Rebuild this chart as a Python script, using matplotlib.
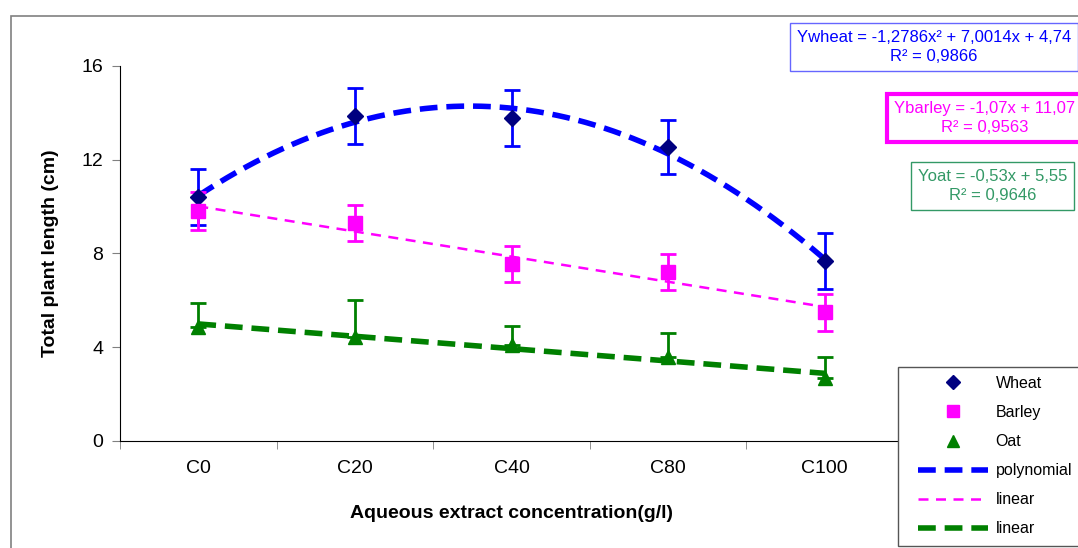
import numpy as np
import matplotlib
matplotlib.use('Agg')
import matplotlib.pyplot as plt
from matplotlib.patches import Rectangle
from matplotlib.lines import Line2D

plt.rcParams['font.family'] = ['Liberation Sans', 'DejaVu Sans']

categories = ['C0', 'C20', 'C40', 'C80', 'C100']
wheat = [10.4, 13.87, 13.78, 12.54, 7.68]
wheat_err = [1.2, 1.18, 1.2, 1.17, 1.18]
barley = [9.81, 9.29, 7.54, 7.2, 5.49]
barley_err = [0.8, 0.77, 0.77, 0.77, 0.78]
oat = [4.88, 4.45, 4.1, 3.6, 2.67]
oat_err_up = [1.0, 1.57, 0.8, 1.0, 0.93]

eq_wheat = 'Ywheat = -1,2786x² + 7,0014x + 4,74\nR² = 0,9866'
eq_barley = 'Ybarley = -1,07x + 11,07\nR² = 0,9563'
eq_oat = 'Yoat = -0,53x + 5,55\nR² = 0,9646'

BLUE = '#0000ff'
NAVY = '#000080'
MAG = '#ff00ff'
GREEN = '#008000'
SEA = '#339966'


def main():
    fig = plt.figure(figsize=(10.78, 5.48), dpi=100)
    ax = fig.add_axes([0.1113, 0.1953, 0.7264, 0.6843])
    x = np.arange(1, len(categories) + 1)
    W, H = 1078, 548

    # outer chart border (only top and left visible)
    fig.patches.append(Rectangle((11 / W, -0.05), 2, 1.05 - 16 / H,
                                 transform=fig.transFigure, fill=False,
                                 edgecolor='#808080', lw=1.2, zorder=0))

    # trend lines fitted to the data
    xs = np.linspace(1, 5, 200)
    pw = np.polyfit(x, wheat, 2)
    pb = np.polyfit(x, barley, 1)
    po = np.polyfit(x, oat, 1)
    ax.plot(xs, np.polyval(pw, xs), color=BLUE, lw=4, dashes=(3.2, 1.6), zorder=2)
    ax.plot(xs, np.polyval(pb, xs), color=MAG, lw=1.8, dashes=(4, 3), zorder=2)
    ax.plot(xs, np.polyval(po, xs), color=GREEN, lw=4, dashes=(3.2, 1.6), zorder=2)

    ax.errorbar(x, wheat, yerr=wheat_err, fmt='none', ecolor=BLUE, elinewidth=2,
                capsize=6, capthick=2, zorder=3)
    ax.errorbar(x, barley, yerr=barley_err, fmt='none', ecolor=MAG, elinewidth=2,
                capsize=6, capthick=2, zorder=3)
    ax.errorbar(x, oat, yerr=[np.zeros(len(oat)), oat_err_up], fmt='none',
                ecolor=GREEN, elinewidth=2, capsize=6, capthick=2, zorder=3)

    ax.plot(x, wheat, 'D', color=NAVY, ms=8, zorder=4)
    ax.plot(x, barley, 's', color=MAG, ms=10, zorder=4)
    ax.plot(x, oat, '^', color=GREEN, ms=10, zorder=4)

    ax.set_xlim(0.5, 5.5)
    ax.set_ylim(0, 16)
    ax.set_yticks([0, 4, 8, 12, 16])
    ax.set_xticks(x)
    ax.set_xticklabels(categories)
    ax.set_xticks(np.arange(0.5, 6, 1), minor=True)
    ax.tick_params(axis='x', which='major', length=0, pad=14, labelsize=14)
    ax.tick_params(axis='x', which='minor', length=6, color='#808080')
    ax.tick_params(axis='y', length=6, color='#808080', labelsize=14, pad=6)
    for s in ['top', 'right']:
        ax.spines[s].set_visible(False)
    ax.set_xlabel('Aqueous extract concentration(g/l)', fontsize=14,
                  fontweight='bold', labelpad=20)
    ax.set_ylabel('Total plant length (cm)', fontsize=14, fontweight='bold',
                  labelpad=16)

    # equation boxes
    box_kw = dict(fontsize=12, ha='left', va='center', multialignment='center',
                  linespacing=1.35)
    fig.text(797 / W, 1 - 47 / H, eq_wheat, color=BLUE, **box_kw,
             bbox=dict(boxstyle='square,pad=0.4', fc='white', ec='#6666ff', lw=1))
    fig.text(894 / W, 1 - 118 / H, eq_barley, color=MAG, **box_kw,
             bbox=dict(boxstyle='square,pad=0.4', fc='white', ec=MAG, lw=3))
    fig.text(918 / W, 1 - 186 / H, eq_oat, color=SEA, **box_kw,
             bbox=dict(boxstyle='square,pad=0.4', fc='white', ec=SEA, lw=1))

    # legend frame drawn separately so it can run past the figure edge
    fig.patches.append(Rectangle((898 / W, 1 - 546 / H), 0.3, (546 - 367) / H,
                                 transform=fig.transFigure, fill=True, fc='white',
                                 edgecolor='#555555', lw=1, zorder=5))
    handles = [
        Line2D([], [], ls='none', marker='D', color=NAVY, ms=7),
        Line2D([], [], ls='none', marker='s', color=MAG, ms=9),
        Line2D([], [], ls='none', marker='^', color=GREEN, ms=9),
        Line2D([], [], color=BLUE, lw=4, dashes=(3.2, 1.6)),
        Line2D([], [], color=MAG, lw=1.8, dashes=(4, 3)),
        Line2D([], [], color=GREEN, lw=4, dashes=(3.2, 1.6)),
    ]
    labels = ['Wheat', 'Barley', 'Oat', 'polynomial', 'linear', 'linear']
    leg = fig.legend(handles, labels, loc='upper left',
                     bbox_to_anchor=(918 / W, 1 - 376 / H),
                     bbox_transform=fig.transFigure, borderaxespad=0,
                     fontsize=11.5, frameon=False,
                     handlelength=4.4, handletextpad=0.45, labelspacing=0.88,
                     borderpad=0)
    leg.set_zorder(6)

    fig.savefig('out.png', dpi=100)


if __name__ == '__main__':
    main()
